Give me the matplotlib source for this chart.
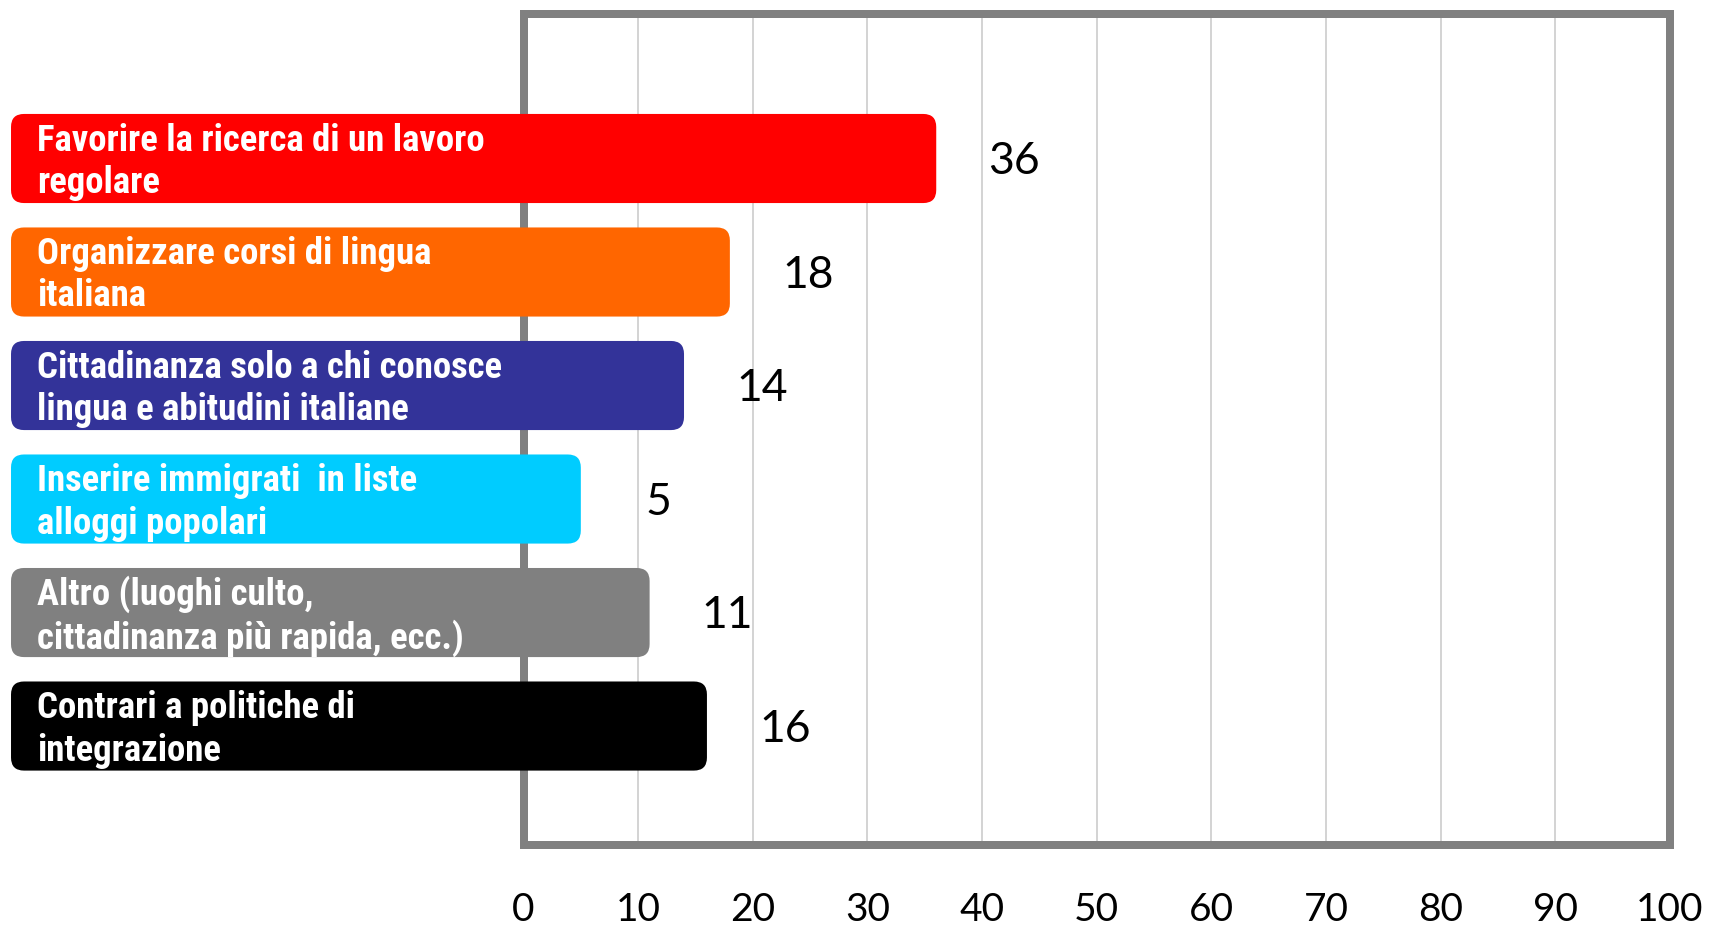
import matplotlib
matplotlib.use("Agg")
import matplotlib.pyplot as plt
from matplotlib.patches import FancyBboxPatch
from matplotlib import font_manager

# ---- data ----
categories = [
    "Favorire la ricerca di un lavoro\nregolare",
    "Organizzare corsi di lingua\nitaliana",
    "Cittadinanza solo a chi conosce\nlingua e abitudini italiane",
    "Inserire immigrati  in liste\nalloggi popolari",
    "Altro (luoghi culto,\ncittadinanza più rapida, ecc.)",
    "Contrari a politiche di\nintegrazione",
]
values = [36, 18, 14, 5, 11, 16]
colors = ["#FF0000", "#FF6600", "#333399", "#00CCFF", "#808080", "#000000"]
xticks = [0, 10, 20, 30, 40, 50, 60, 70, 80, 90, 100]

# ---- fonts ----
avail = {f.name for f in font_manager.fontManager.ttflist}
def pick(cands):
    for c in cands:
        if c in avail:
            return c
    return "DejaVu Sans"
label_font = pick(["Liberation Sans Narrow", "Roboto Condensed", "Open Sans", "DejaVu Sans"])
num_font = pick(["Lato", "Open Sans", "Noto Sans", "DejaVu Sans"])

W, H, DPI = 1712, 936, 100
fig = plt.figure(figsize=(W / DPI, H / DPI), dpi=DPI)
ax_l, ax_r, ax_t, ax_b = 523.5, 1670, 14, 845
ax = fig.add_axes([ax_l / W, 1 - ax_b / H, (ax_r - ax_l) / W, (ax_b - ax_t) / H])

ax.set_xlim(0, 100)
ax.set_ylim(6.048, -1.273)

for s in ax.spines.values():
    s.set_color("#808080")
    s.set_linewidth(8 * 72 / DPI)
    s.set_zorder(2.5)

ax.set_xticks(xticks)
ax.set_xticklabels([str(t) for t in xticks], fontsize=28, fontfamily=num_font, color="black")
ax.tick_params(axis="x", length=0, pad=34)
ax.set_yticks([])
ax.grid(axis="x", color="#C8C8C8", linewidth=1.1, zorder=0)
ax.set_axisbelow(True)

bar_start = -44.7
bar_h = 0.785
px_per_x = (ax_r - ax_l) / 100.0
px_per_y = (ax_b - ax_t) / (6.048 + 1.273)
r_px = 13
R = r_px / px_per_x
aspect = (r_px / px_per_y) / R

for i, (cat, v, c) in enumerate(zip(categories, values, colors)):
    p = FancyBboxPatch((bar_start, i - bar_h / 2), v - bar_start, bar_h,
                       boxstyle=f"round,pad=0,rounding_size={R}",
                       mutation_aspect=aspect, facecolor=c, edgecolor="none",
                       zorder=3, clip_on=False)
    ax.add_patch(p)
    ax.text(-42.4, i + 0.03, cat, color="white", fontsize=26.5, fontweight="bold",
            fontfamily=label_font, ha="left", va="center", linespacing=1.22,
            zorder=4, clip_on=False)
    ax.text(v + 6.8, i + 0.03, str(v), color="black", fontsize=32, fontfamily=num_font,
            ha="center", va="center", zorder=4, clip_on=False)

fig.savefig("out.png", dpi=DPI, facecolor="white")
